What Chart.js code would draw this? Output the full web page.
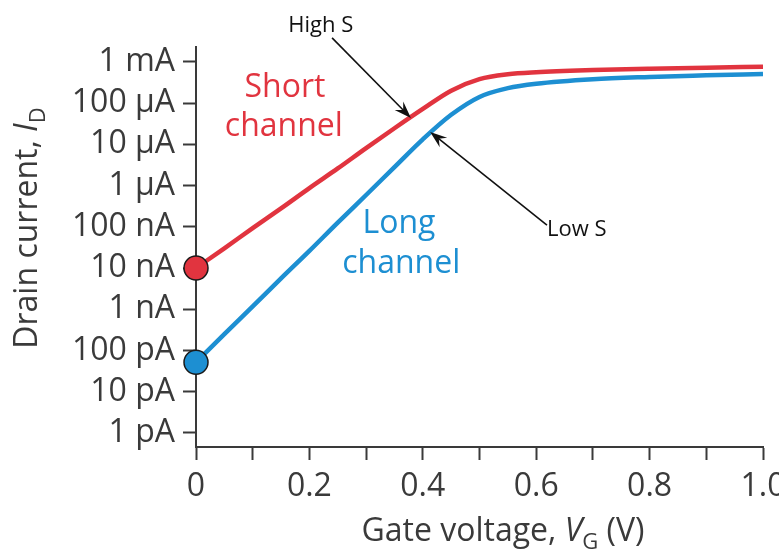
<!DOCTYPE html>
<html>
<head>
<meta charset="utf-8">
<script src="https://cdn.jsdelivr.net/npm/chart.js@4.4.1/dist/chart.umd.min.js"></script>
<style>
  html, body { margin: 0; padding: 0; background: #fff; }
  #wrap { width: 779px; height: 552px; }
</style>
</head>
<body>
<div id="wrap"><canvas id="chart"></canvas></div>
<script>
// gate voltage (V) and drain current (A)
const gateVoltage  = [0, 0.05, 0.1, 0.15, 0.2, 0.25, 0.3, 0.35, 0.4, 0.45, 0.5, 0.55, 0.6, 0.7, 0.8, 0.9, 1.0];
const shortChannel = [1.0e-8, 3.0e-8, 9.3e-8, 2.8e-7, 8.7e-7, 2.6e-6, 8.1e-6, 2.45e-5, 7.2e-5, 2.0e-4, 3.8e-4, 5.0e-4, 5.6e-4, 6.3e-4, 6.8e-4, 7.2e-4, 7.6e-4];
const longChannel  = [5.2e-11, 2.5e-10, 1.17e-9, 5.6e-9, 2.6e-8, 1.26e-7, 5.9e-7, 2.8e-6, 1.32e-5, 5.2e-5, 1.41e-4, 2.3e-4, 2.95e-4, 3.8e-4, 4.3e-4, 4.7e-4, 5.1e-4];

const currentTicks  = [1e-12, 1e-11, 1e-10, 1e-9, 1e-8, 1e-7, 1e-6, 1e-5, 1e-4, 1e-3];
const currentLabels = ['1 pA', '10 pA', '100 pA', '1 nA', '10 nA', '100 nA', '1 \u00b5A', '10 \u00b5A', '100 \u00b5A', '1 mA'];
const voltageTicks  = [0, 0.1, 0.2, 0.3, 0.4, 0.5, 0.6, 0.7, 0.8, 0.9, 1.0];
const voltageLabels = ['0', '', '0.2', '', '0.4', '', '0.6', '', '0.8', '', '1.0'];

const RED = '#e1343f';
const BLUE = '#1d8fd2';
const INK = '#3a3a3a';
const FONT = '"Open Sans", "DejaVu Sans", sans-serif';

function toPoints(ys) {
  return gateVoltage.map((v, i) => ({ x: v, y: ys[i] }));
}

function drawArrow(ctx, x0, y0, x1, y1) {
  const a = Math.atan2(y1 - y0, x1 - x0);
  const len = 17, half = 6;
  ctx.strokeStyle = '#111';
  ctx.fillStyle = '#111';
  ctx.lineWidth = 1.6;
  ctx.beginPath();
  ctx.moveTo(x0, y0);
  ctx.lineTo(x1 - Math.cos(a) * 10, y1 - Math.sin(a) * 10);
  ctx.stroke();
  ctx.beginPath();
  ctx.moveTo(x1, y1);
  ctx.lineTo(x1 - Math.cos(a) * len - Math.sin(a) * half, y1 - Math.sin(a) * len + Math.cos(a) * half);
  ctx.lineTo(x1 - Math.cos(a) * (len - 6), y1 - Math.sin(a) * (len - 6));
  ctx.lineTo(x1 - Math.cos(a) * len + Math.sin(a) * half, y1 - Math.sin(a) * len - Math.cos(a) * half);
  ctx.closePath();
  ctx.fill();
}

// draws text pieces (normal / italic / subscript) centred on x=0 at baseline y=0
function drawPieces(ctx, pieces) {
  let total = 0;
  pieces.forEach(p => { ctx.font = p.font; p.w = ctx.measureText(p.text).width; total += p.w; });
  let cx = -total / 2;
  ctx.textAlign = 'left';
  ctx.textBaseline = 'alphabetic';
  pieces.forEach(p => {
    ctx.font = p.font;
    ctx.fillText(p.text, cx, p.dy || 0);
    cx += p.w;
  });
}

const annotations = {
  id: 'annotations',
  afterDraw(chart) {
    const ctx = chart.ctx;
    const xs = chart.scales.x, ys = chart.scales.y;
    const px = v => xs.getPixelForValue(v);
    const py = e => ys.getPixelForValue(Math.pow(10, e));
    ctx.save();

    // curve labels
    ctx.textAlign = 'center';
    ctx.textBaseline = 'alphabetic';
    ctx.font = '32px ' + FONT;
    ctx.fillStyle = RED;
    ctx.fillText('Short', px(0.157), py(-3.85));
    ctx.fillText('channel', px(0.155), py(-4.80));
    ctx.fillStyle = BLUE;
    ctx.fillText('Long', px(0.358), py(-7.15));
    ctx.fillText('channel', px(0.362), py(-8.12));

    // slope callouts
    ctx.fillStyle = '#111';
    ctx.font = '22px ' + FONT;
    ctx.fillText('High S', px(0.22), py(-2.27));
    ctx.textAlign = 'left';
    ctx.fillText('Low S', px(0.619), py(-7.22));
    drawArrow(ctx, px(0.24), py(-2.42), px(0.379), py(-4.36));
    drawArrow(ctx, px(0.619), py(-6.96), px(0.413), py(-4.70));

    // axis titles
    ctx.fillStyle = INK;
    ctx.save();
    ctx.translate(503, 541);
    drawPieces(ctx, [
      { text: 'Gate voltage, ', font: '32px ' + FONT },
      { text: 'V', font: 'italic 32px ' + FONT },
      { text: 'G', font: '22px ' + FONT, dy: 8 },
      { text: ' (V)', font: '32px ' + FONT }
    ]);
    ctx.restore();

    ctx.save();
    ctx.translate(37, 228);
    ctx.rotate(-Math.PI / 2);
    drawPieces(ctx, [
      { text: 'Drain current, ', font: '32px ' + FONT },
      { text: 'I', font: 'italic 32px ' + FONT },
      { text: 'D', font: '22px ' + FONT, dy: 8 }
    ]);
    ctx.restore();

    ctx.restore();
  }
};

const lineStyle = {
  borderWidth: 4.5,
  fill: false,
  cubicInterpolationMode: 'monotone',
  clip: false,
  pointRadius: ctx => ctx.dataIndex === 0 ? 12 : 0,
  pointHoverRadius: 0,
  pointBorderColor: '#1a1a1a',
  pointBorderWidth: 1.5
};

const config = {
  type: 'line',
  data: {
    datasets: [
      Object.assign({ label: 'Long channel', data: toPoints(longChannel), borderColor: BLUE, backgroundColor: BLUE, pointBackgroundColor: BLUE }, lineStyle),
      Object.assign({ label: 'Short channel', data: toPoints(shortChannel), borderColor: RED, backgroundColor: RED, pointBackgroundColor: RED }, lineStyle)
    ]
  },
  options: {
    animation: false,
    responsive: true,
    maintainAspectRatio: false,
    events: [],
    layout: {
      autoPadding: false,
      padding: { top: 47, right: 16, left: 0, bottom: 0 }
    },
    plugins: {
      legend: { display: false },
      tooltip: { enabled: false }
    },
    scales: {
      x: {
        type: 'linear',
        min: 0,
        max: 1,
        afterBuildTicks: scale => { scale.ticks = voltageTicks.map(v => ({ value: v })); },
        afterFit: scale => {
          scale.height = 105;
          scale.paddingLeft = 0;
          scale.paddingRight = 0;
        },
        ticks: {
          color: INK,
          padding: 8,
          maxRotation: 0,
          autoSkip: false,
          font: { family: FONT, size: 32 },
          callback: (v, i) => voltageLabels[i]
        },
        grid: { drawOnChartArea: false, tickLength: 13, tickWidth: 2, tickColor: INK },
        border: { color: INK, width: 2 }
      },
      y: {
        type: 'logarithmic',
        min: Math.pow(10, -12.34),
        max: Math.pow(10, -2.64),
        afterBuildTicks: scale => { scale.ticks = currentTicks.map(v => ({ value: v })); },
        afterFit: scale => {
          scale.width = 196;
          scale.paddingTop = 0;
          scale.paddingBottom = 0;
        },
        ticks: {
          color: INK,
          padding: 8,
          autoSkip: false,
          font: { family: FONT, size: 32 },
          callback: (v, i) => currentLabels[i]
        },
        grid: { drawOnChartArea: false, tickLength: 13, tickWidth: 2, tickColor: INK },
        border: { color: INK, width: 2 }
      }
    }
  },
  plugins: [annotations]
};

new Chart(document.getElementById('chart'), config);
</script>
</body>
</html>
